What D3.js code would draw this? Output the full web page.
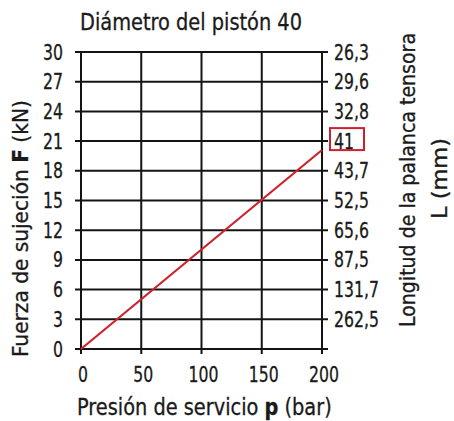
<!DOCTYPE html>
<html>
<head>
<meta charset="utf-8">
<script src="https://cdn.jsdelivr.net/npm/d3@7"></script>
<style>
  body { margin: 0; background: #fff; }
  text { font-family: "Liberation Sans Narrow", "DejaVu Sans Condensed", sans-serif; fill: #1a1a1a; stroke: #1a1a1a; stroke-width: 0.3; }
</style>
</head>
<body>
<div class="container"></div>
<script>
// data
const pressureTicks = [0, 50, 100, 150, 200];
const forceTicks = [0, 3, 6, 9, 12, 15, 18, 21, 24, 27, 30];
const leverLabels = ["262,5", "131,7", "87,5", "65,6", "52,5", "43,7", "41", "32,8", "29,6", "26,3"];
const leverAt = [3, 6, 9, 12, 15, 18, 21, 24, 27, 30];
const linePressure = [0, 200];
const lineForce = [0, 20.1];

const w = 454;
const h = 421;
const padding = {left: 81, top: 52, right: 132, bottom: 72};

const xScale = d3.scaleLinear()
                 .domain([0, 200])
                 .range([padding.left, w - padding.right]);
const yScale = d3.scaleLinear()
                 .domain([0, 30])
                 .range([h - padding.bottom, padding.top]);

const svg = d3.select(".container")
              .append("svg")
              .attr("width", w)
              .attr("height", h);

// squeeze text horizontally, the original font is a condensed one
let squeeze = function (sel, factor) {
  sel.each(function () {
    const len = this.getComputedTextLength();
    d3.select(this).attr("textLength", len * factor).attr("lengthAdjust", "spacingAndGlyphs");
  });
};

// same idea for texts with tspans: scale the whole text to a wanted length
let fitTo = function (t, x, y, rot, len) {
  const natural = t.node().getComputedTextLength();
  t.attr("transform", "translate(" + x + "," + y + ") rotate(" + rot + ") scale(" + (len / natural) + ",1)");
};

// grid
const grid = svg.append("g").attr("stroke", "#141414").attr("stroke-width", 2);
grid.selectAll("line.h")
    .data(forceTicks)
    .enter()
    .append("line")
    .attr("x1", xScale(0) - 6)
    .attr("x2", xScale(200) + 6)
    .attr("y1", (d) => yScale(d))
    .attr("y2", (d) => yScale(d));
grid.selectAll("line.v")
    .data(pressureTicks)
    .enter()
    .append("line")
    .attr("x1", (d) => xScale(d))
    .attr("x2", (d) => xScale(d))
    .attr("y1", yScale(30))
    .attr("y2", yScale(0) + 5);

// left axis labels
const leftLab = svg.append("g").selectAll("text")
   .data(forceTicks)
   .enter()
   .append("text")
   .attr("x", xScale(0) - 18)
   .attr("y", (d) => yScale(d) + 7.5)
   .attr("text-anchor", "end")
   .attr("font-size", 21)
   .text((d) => d);
squeeze(leftLab, 0.83);

// right axis labels
const rightLab = svg.append("g").selectAll("text")
   .data(leverLabels)
   .enter()
   .append("text")
   .attr("x", xScale(200) + 12)
   .attr("y", (d, i) => yScale(leverAt[i]) + 7.5)
   .attr("font-size", 21)
   .text((d) => d);
squeeze(rightLab, 0.83);

// red box round the 41
svg.append("rect")
   .attr("x", xScale(200) + 8)
   .attr("y", yScale(21) - 13)
   .attr("width", 34)
   .attr("height", 22)
   .attr("fill", "none")
   .attr("stroke", "#cf1f2e")
   .attr("stroke-width", 2);

// bottom axis labels
const botLab = svg.append("g").selectAll("text")
   .data(pressureTicks)
   .enter()
   .append("text")
   .attr("x", (d) => xScale(d) + 2)
   .attr("y", yScale(0) + 33)
   .attr("text-anchor", "middle")
   .attr("font-size", 21)
   .text((d) => d);
squeeze(botLab, 0.83);

// force line
const line = d3.line()
               .x((d, i) => xScale(d))
               .y((d, i) => yScale(lineForce[i]));
svg.append("path")
   .datum(linePressure)
   .attr("d", line)
   .attr("fill", "none")
   .attr("stroke", "#d0202a")
   .attr("stroke-width", 2.2);

// title
svg.append("text")
   .attr("x", 80)
   .attr("y", 30)
   .attr("font-size", 23.5)
   .attr("textLength", 222)
   .attr("lengthAdjust", "spacingAndGlyphs")
   .text("Diámetro del pistón 40");

// x title
const xt = svg.append("text")
   .attr("font-size", 23.5);
xt.append("tspan").text("Presión de servicio ");
xt.append("tspan").attr("font-weight", "bold").text("p");
xt.append("tspan").text(" (bar)");
fitTo(xt, 77, 415, 0, 255);

// y title left
const yt = svg.append("text")
   .attr("font-size", 21);
yt.append("tspan").text("Fuerza de sujeción ");
yt.append("tspan").attr("font-weight", "bold").text("F");
yt.append("tspan").text(" (kN)");
fitTo(yt, 28, 357, -90, 257);

// y title right
svg.append("text")
   .attr("transform", "translate(415,327) rotate(-90)")
   .attr("font-size", 21)
   .attr("textLength", 294)
   .attr("lengthAdjust", "spacingAndGlyphs")
   .text("Longitud de la palanca tensora");
svg.append("text")
   .attr("transform", "translate(447,219) rotate(-90)")
   .attr("font-size", 21)
   .attr("textLength", 81)
   .attr("lengthAdjust", "spacingAndGlyphs")
   .text("L (mm)");
</script>
</body>
</html>
